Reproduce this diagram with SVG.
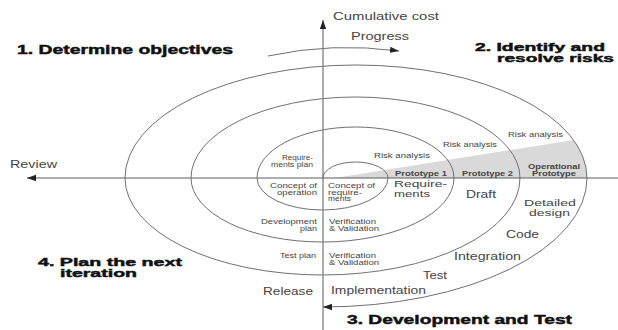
<svg xmlns="http://www.w3.org/2000/svg" width="618" height="330" viewBox="0 0 618 330">
<style>
.ln{fill:none;stroke:#707070;stroke-width:1}
.ax{fill:none;stroke:#5a5a5a;stroke-width:1}
.h{font-family:"Liberation Sans",Arial,sans-serif;font-weight:bold;font-size:12.5px;fill:#111;stroke:#111;stroke-width:0.45}
.h2{font-size:11px}
.m{font-family:"Liberation Sans",Arial,sans-serif;font-size:10.5px;fill:#444}
.m2{font-size:9px}
.s{font-family:"Liberation Sans",Arial,sans-serif;font-size:7px;fill:#444}
.s2{font-size:6.3px}
.p{font-family:"Liberation Sans",Arial,sans-serif;font-size:7.5px;font-weight:bold;fill:#444}
.p2{font-size:6.8px}
</style>
<defs>
<marker id="ah" viewBox="0 0 10 10" refX="10" refY="5" markerWidth="9" markerHeight="9" markerUnits="userSpaceOnUse" orient="auto">
<path d="M0,1.5 L10,5 L0,8.5 Z" fill="#222"/>
</marker>
</defs>
<rect width="618" height="330" fill="#fff"/>
<g id="shade">
<path d="M335,178 L573.5,140 A231,113 0 0 1 587,178 Z" fill="#d9d9d9"/>
</g>
<g id="connectors">
<line class="ax" x1="618" y1="178" x2="27" y2="178" marker-end="url(#ah)"/>
<line class="ax" x1="323" y1="330" x2="323" y2="20" marker-end="url(#ah)"/>
<path class="ln" d="M268,56 Q332,42 399,51" marker-end="url(#ah)"/>
<path id="spiral" class="ln" d="M323,178 A32.5,16 0 0 1 388,178 A65.5,32 0 0 1 257,178 A98.5,51 0 0 1 454,178 A131.5,64 0 0 1 191,178 A164.5,81 0 0 1 520,178 A197.5,97 0 0 1 125,178 A231,113 0 0 1 587,178 A264.5,129 0 0 1 323,307" marker-end="url(#ah)"/>
</g>
<g id="quadrants">
<text class="h" x="17" y="54" textLength="216" lengthAdjust="spacingAndGlyphs">1. Determine objectives</text>
<text class="h h2" x="475" y="51" textLength="130" lengthAdjust="spacingAndGlyphs">2. Identify and</text>
<text class="h h2" x="497" y="62" textLength="117" lengthAdjust="spacingAndGlyphs">resolve risks</text>
<text class="h h2" x="38" y="266" textLength="144" lengthAdjust="spacingAndGlyphs">4. Plan the next</text>
<text class="h h2" x="60" y="277" textLength="77" lengthAdjust="spacingAndGlyphs">iteration</text>
<text class="h" x="347" y="324" textLength="225" lengthAdjust="spacingAndGlyphs">3. Development and Test</text>
</g>
<g id="axis-labels">
<text class="m" x="333" y="20" textLength="106" lengthAdjust="spacingAndGlyphs">Cumulative cost</text>
<text class="m" x="351" y="40" textLength="58" lengthAdjust="spacingAndGlyphs">Progress</text>
<text class="m" x="10" y="168" textLength="47" lengthAdjust="spacingAndGlyphs">Review</text>
<text class="m" x="263" y="295" textLength="50" lengthAdjust="spacingAndGlyphs">Release</text>
</g>
<g id="risk">
<text class="s" x="374" y="158" textLength="56" lengthAdjust="spacingAndGlyphs">Risk analysis</text>
<text class="s" x="443" y="147" textLength="54" lengthAdjust="spacingAndGlyphs">Risk analysis</text>
<text class="s" x="508" y="137" textLength="55" lengthAdjust="spacingAndGlyphs">Risk analysis</text>
<text class="p" x="395" y="176" textLength="52" lengthAdjust="spacingAndGlyphs">Prototype 1</text>
<text class="p" x="462" y="176" textLength="51" lengthAdjust="spacingAndGlyphs">Prototype 2</text>
<text class="p p2" x="528" y="168.5" textLength="52" lengthAdjust="spacingAndGlyphs">Operational</text>
<text class="p p2" x="532" y="176" textLength="44" lengthAdjust="spacingAndGlyphs">Prototype</text>
</g>
<g id="plans">
<text class="s s2" x="282" y="160" textLength="31" lengthAdjust="spacingAndGlyphs">Require-</text>
<text class="s s2" x="271" y="166.5" textLength="42" lengthAdjust="spacingAndGlyphs">ments plan</text>
<text class="s" x="270" y="188" textLength="47" lengthAdjust="spacingAndGlyphs">Concept of</text>
<text class="s" x="277" y="195" textLength="40" lengthAdjust="spacingAndGlyphs">operation</text>
<text class="s s2" x="328" y="188" textLength="47" lengthAdjust="spacingAndGlyphs">Concept of</text>
<text class="s s2" x="328" y="194.5" textLength="34" lengthAdjust="spacingAndGlyphs">require-</text>
<text class="s s2" x="328" y="201" textLength="23" lengthAdjust="spacingAndGlyphs">ments</text>
<text class="s" x="261" y="224" textLength="56" lengthAdjust="spacingAndGlyphs">Development</text>
<text class="s" x="300" y="231" textLength="17" lengthAdjust="spacingAndGlyphs">plan</text>
<text class="s" x="329" y="224" textLength="47" lengthAdjust="spacingAndGlyphs">Verification</text>
<text class="s" x="329" y="231" textLength="50" lengthAdjust="spacingAndGlyphs">&amp; Validation</text>
<text class="s" x="280" y="258" textLength="36" lengthAdjust="spacingAndGlyphs">Test plan</text>
<text class="s s2" x="329" y="258" textLength="47" lengthAdjust="spacingAndGlyphs">Verification</text>
<text class="s s2" x="329" y="264.5" textLength="50" lengthAdjust="spacingAndGlyphs">&amp; Validation</text>
</g>
<g id="development">
<text class="m m2" x="394" y="187" textLength="53" lengthAdjust="spacingAndGlyphs">Require-</text>
<text class="m m2" x="394" y="197" textLength="36" lengthAdjust="spacingAndGlyphs">ments</text>
<text class="m" x="466" y="198" textLength="30" lengthAdjust="spacingAndGlyphs">Draft</text>
<text class="m m2" x="524" y="206" textLength="52" lengthAdjust="spacingAndGlyphs">Detailed</text>
<text class="m m2" x="529" y="215.5" textLength="41" lengthAdjust="spacingAndGlyphs">design</text>
<text class="m" x="506" y="238" textLength="33" lengthAdjust="spacingAndGlyphs">Code</text>
<text class="m" x="454" y="260" textLength="67" lengthAdjust="spacingAndGlyphs">Integration</text>
<text class="m" x="423" y="279" textLength="24" lengthAdjust="spacingAndGlyphs">Test</text>
<text class="m" x="331" y="294" textLength="95" lengthAdjust="spacingAndGlyphs">Implementation</text>
</g>
</svg>
